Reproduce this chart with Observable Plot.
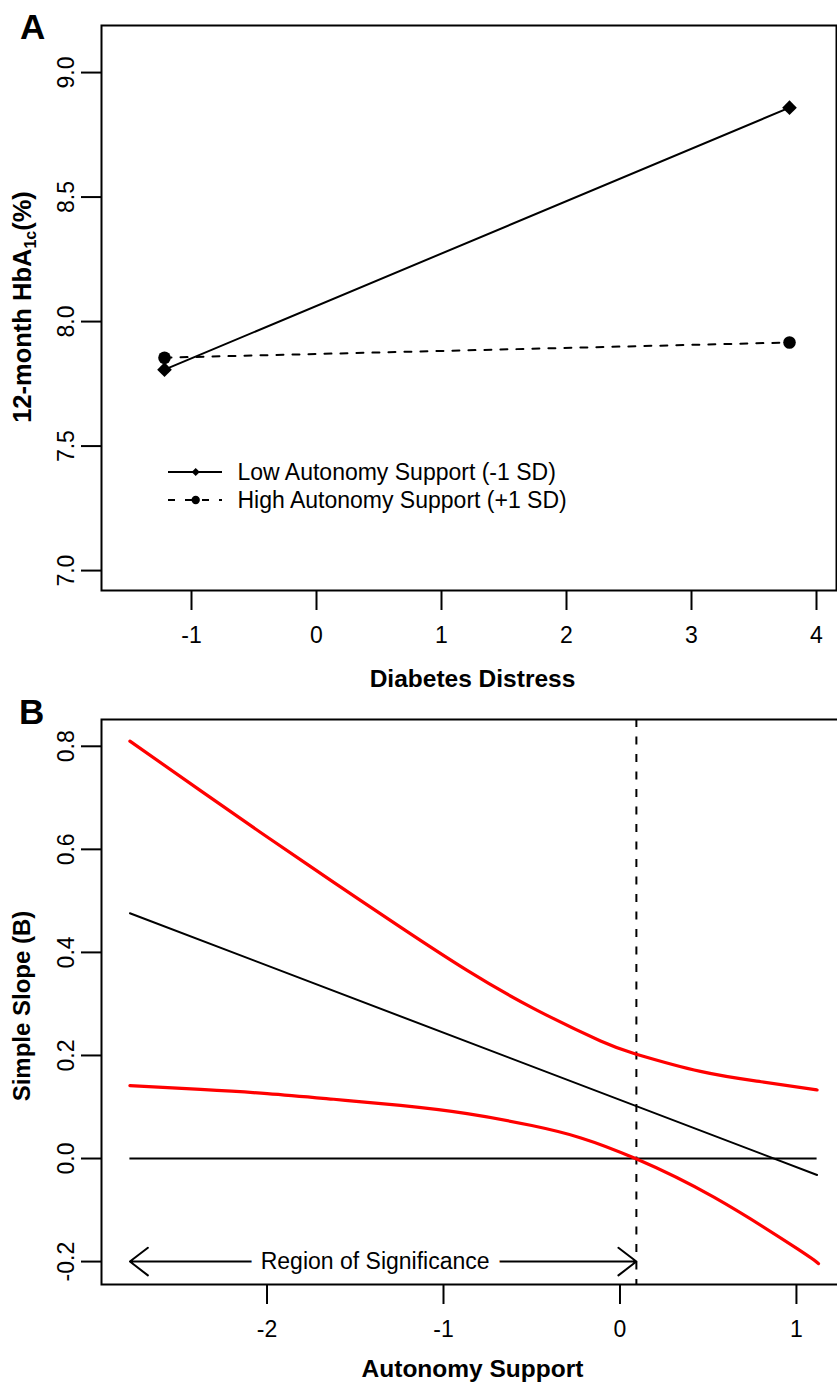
<!DOCTYPE html>
<html>
<head>
<meta charset="utf-8">
<script src="https://cdn.jsdelivr.net/npm/d3@7"></script>
<script src="https://cdn.jsdelivr.net/npm/@observablehq/plot@0.6"></script>
<style>
  body { margin: 0; background: #fff; }
  #wrap { position: relative; width: 837px; height: 1382px; overflow: hidden; font-family: "Liberation Sans", Arial, sans-serif; }
  #wrap svg { display: block; }
  #overlay { position: absolute; left: 0; top: 0; pointer-events: none; }
</style>
</head>
<body>
<div id="wrap">
  <div id="panelA"></div>
  <div id="panelB"></div>
  <svg id="overlay" width="837" height="1382" font-family="Liberation Sans, Arial, sans-serif">
    <text x="20" y="39" font-size="35" font-weight="bold">A</text>
    <text x="19" y="724" font-size="35" font-weight="bold">B</text>
    <text transform="translate(31,307) rotate(-90)" text-anchor="middle" font-size="25.5" font-weight="bold">12-month HbA<tspan dy="5" font-size="16">1c</tspan><tspan dy="-5">(%)</tspan></text>
    <text transform="translate(30,1006) rotate(-90)" text-anchor="middle" font-size="24" font-weight="bold">Simple Slope (B)</text>
    <text x="472.5" y="687" text-anchor="middle" font-size="24.5" font-weight="bold">Diabetes Distress</text>
    <text x="472.5" y="1377" text-anchor="middle" font-size="24.5" font-weight="bold">Autonomy Support</text>
    <g id="legend"></g>
  </svg>
</div>
<script>
// ---------- Panel A data ----------
const xTicksA = [-1, 0, 1, 2, 3, 4];
const yTicksA = [7.0, 7.5, 8.0, 8.5, 9.0];
const distressX = [-1.216, 3.784];
const lowAutonomyY = [7.807, 8.859];
const highAutonomyY = [7.855, 7.916];
const seriesNames = ["Low Autonomy Support (-1 SD)", "High Autonomy Support (+1 SD)"];

// ---------- Panel B data ----------
const xTicksB = [-2, -1, 0, 1];
const yTicksB = [-0.2, 0.0, 0.2, 0.4, 0.6, 0.8];
const slopeX = [-2.777, 1.117];
const slopeY = [0.476, -0.032];
const upperX = [-2.777, -2.377, -1.999, -1.622, -1.244, -0.866, -0.488, -0.110, 0.088, 0.456, 0.800, 1.117];
const upperY = [0.810, 0.714, 0.624, 0.536, 0.449, 0.365, 0.291, 0.228, 0.203, 0.169, 0.149, 0.133];
const lowerX = [-2.777, -2.377, -1.999, -1.622, -1.244, -0.866, -0.500, -0.221, 0.088, 0.532, 1.004, 1.125];
const lowerY = [0.1416, 0.134, 0.126, 0.115, 0.103, 0.087, 0.064, 0.040, 0.000, -0.075, -0.175, -0.204];
const johnsonNeyman = 0.093;
const regionLabel = "Region of Significance";
const regionY = -0.2;

const FONT = "Liberation Sans, Arial, sans-serif";
const toRows = (xs, ys) => xs.map((x, i) => ({x, y: ys[i]}));

// ---------- Panel A ----------
const low = toRows(distressX, lowAutonomyY);
const high = toRows(distressX, highAutonomyY);

const plotA = Plot.plot({
  width: 837, height: 695,
  marginTop: 25, marginBottom: 105, marginLeft: 101, marginRight: 1,
  style: {fontFamily: FONT, fontSize: "23px", color: "black", background: "white"},
  x: {domain: [-1.72, 4.16]},
  y: {domain: [6.92, 9.189]},
  marks: [
    Plot.line(low, {x: "x", y: "y", stroke: "black", strokeWidth: 2}),
    Plot.line(high, {x: "x", y: "y", stroke: "black", strokeWidth: 2, strokeDasharray: "7,9"}),
    Plot.dot(low, {x: "x", y: "y", symbol: "diamond2", r: 6.6, fill: "black"}),
    Plot.dot(high, {x: "x", y: "y", symbol: "circle", r: 6.3, fill: "black"}),
    Plot.axisX({ticks: xTicksA, tickSize: 20, tickPadding: 16, strokeWidth: 2, fontSize: 23, tickFormat: d => String(d), label: null}),
    Plot.axisY({ticks: yTicksA, tickSize: 20, strokeWidth: 2, tickFormat: () => "", label: null}),
    Plot.text(yTicksA, {y: d => d, text: d => d.toFixed(1), frameAnchor: "left", dx: -35, rotate: -90, textAnchor: "middle", lineAnchor: "middle", fontSize: 23}),
    Plot.frame({stroke: "black", strokeWidth: 2})
  ]
});
document.getElementById("panelA").appendChild(plotA);

// ---------- Panel B ----------
const slopeLine = toRows(slopeX, slopeY);
const upper = toRows(upperX, upperY);
const lower = toRows(lowerX, lowerY);
const regionStart = slopeX[0];
const regionMid = (regionStart + johnsonNeyman) / 2;
const arrows = [
  {x1: regionMid, x2: regionStart, y: regionY},
  {x1: regionMid, x2: johnsonNeyman, y: regionY}
];

const plotB = Plot.plot({
  width: 837, height: 687,
  marginTop: 24, marginBottom: 98, marginLeft: 101, marginRight: -8,
  style: {fontFamily: FONT, fontSize: "23px", color: "black", background: "white"},
  x: {domain: [-2.938, 1.278]},
  y: {domain: [-0.2445, 0.852]},
  marks: [
    Plot.ruleY([0], {x1: slopeX[0], x2: slopeX[1], stroke: "black", strokeWidth: 2}),
    Plot.ruleX([johnsonNeyman], {stroke: "black", strokeWidth: 2, strokeDasharray: "8,9.5"}),
    Plot.line(slopeLine, {x: "x", y: "y", stroke: "black", strokeWidth: 2}),
    Plot.line(upper, {x: "x", y: "y", stroke: "#ff0000", strokeWidth: 3.2, curve: "natural"}),
    Plot.line(lower, {x: "x", y: "y", stroke: "#ff0000", strokeWidth: 3.2, curve: "natural"}),
    Plot.arrow(arrows, {x1: "x1", x2: "x2", y1: "y", y2: "y", stroke: "black", strokeWidth: 2, headLength: 17, headAngle: 75, bend: 0}),
    Plot.text([regionLabel], {x: regionMid, y: regionY, text: d => d, dx: -8, fontSize: 23, fill: "black", stroke: "white", strokeWidth: 22, lineAnchor: "middle"}),
    Plot.axisX({ticks: xTicksB, tickSize: 20, tickPadding: 16, strokeWidth: 2, fontSize: 23, tickFormat: d => String(d), label: null}),
    Plot.axisY({ticks: yTicksB, tickSize: 20, strokeWidth: 2, tickFormat: () => "", label: null}),
    Plot.text(yTicksB, {y: d => d, text: d => d.toFixed(1), frameAnchor: "left", dx: -35, rotate: -90, textAnchor: "middle", lineAnchor: "middle", fontSize: 23}),
    Plot.frame({stroke: "black", strokeWidth: 2})
  ]
});
document.getElementById("panelB").appendChild(plotB);

// ---------- Legend (panel A) ----------
const ns = "http://www.w3.org/2000/svg";
const legend = document.getElementById("legend");
const legendRows = [
  {name: seriesNames[0], dash: null, symbol: d3.symbolDiamond2, size: 42},
  {name: seriesNames[1], dash: "7,10", symbol: d3.symbolCircle, size: 55}
];
legendRows.forEach((row, i) => {
  const cy = 472 + i * 28;
  const line = document.createElementNS(ns, "line");
  line.setAttribute("x1", 168); line.setAttribute("x2", 222);
  line.setAttribute("y1", cy); line.setAttribute("y2", cy);
  line.setAttribute("stroke", "black"); line.setAttribute("stroke-width", 2);
  if (row.dash) line.setAttribute("stroke-dasharray", row.dash);
  legend.appendChild(line);
  const sym = document.createElementNS(ns, "path");
  sym.setAttribute("d", d3.symbol(row.symbol, row.size)());
  sym.setAttribute("transform", `translate(195.7,${cy})`);
  sym.setAttribute("fill", "black");
  legend.appendChild(sym);
  const t = document.createElementNS(ns, "text");
  t.setAttribute("x", 237.5); t.setAttribute("y", cy + 8.3);
  t.setAttribute("font-size", 23);
  t.textContent = row.name;
  legend.appendChild(t);
});
</script>
</body>
</html>
